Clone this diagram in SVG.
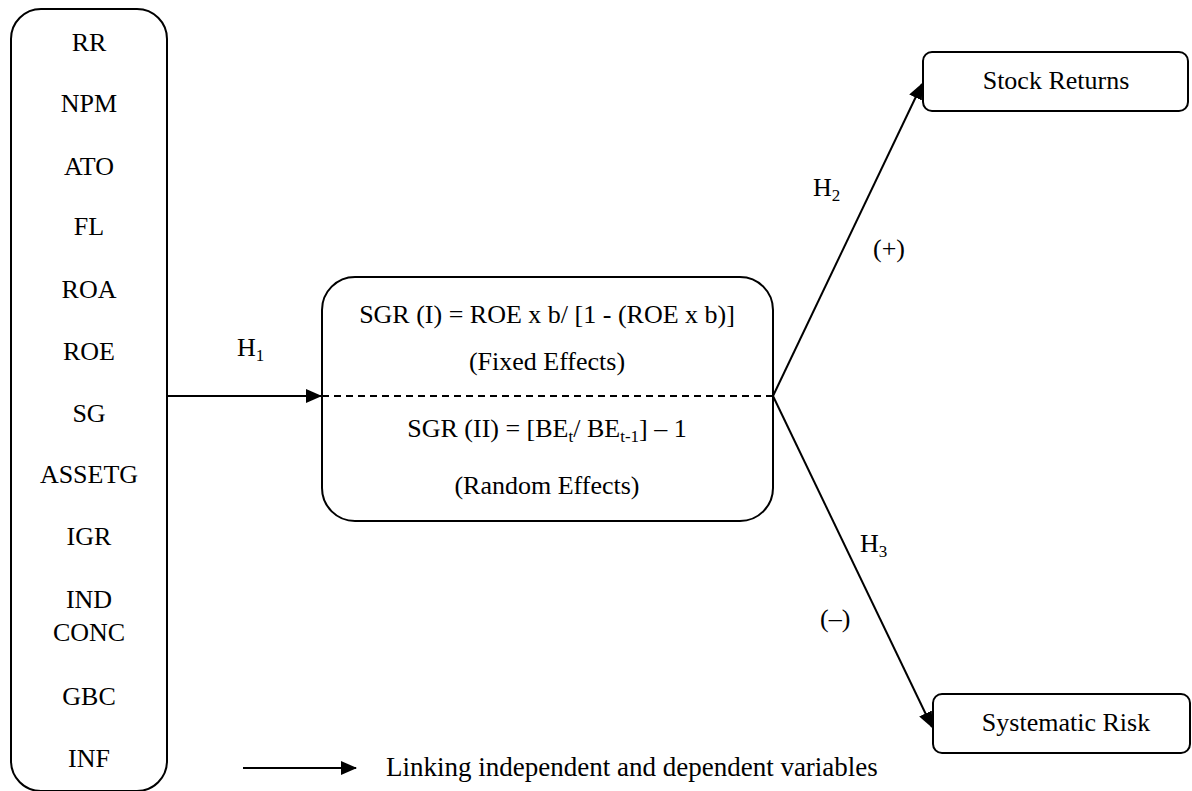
<svg xmlns="http://www.w3.org/2000/svg" width="1192" height="791" viewBox="0 0 1192 791">
<style>
text{font-family:"Liberation Serif","Times New Roman",serif;font-size:26px;fill:#000}
.c{text-anchor:middle}
.box{fill:#fff;stroke:#000;stroke-width:2}
.ln{stroke:#000;stroke-width:2;fill:none}
.sub{font-size:17px}
.lg{font-size:27px}
</style>
<defs>
<marker id="ah" markerWidth="16" markerHeight="14" refX="15" refY="7" orient="auto" markerUnits="userSpaceOnUse">
<path d="M0,0 L16,7 L0,14 Z" fill="#000"/>
</marker>
</defs>
<g id="independent">
<rect class="box" x="11" y="9" width="156" height="782" rx="30"/>
<text class="c" x="89" y="51">RR</text>
<text class="c" x="89" y="112">NPM</text>
<text class="c" x="89" y="175">ATO</text>
<text class="c" x="89" y="235">FL</text>
<text class="c" x="89" y="298">ROA</text>
<text class="c" x="89" y="360">ROE</text>
<text class="c" x="89" y="422">SG</text>
<text class="c" x="89" y="483">ASSETG</text>
<text class="c" x="89" y="545">IGR</text>
<text class="c" x="89" y="608">IND</text>
<text class="c" x="89" y="641">CONC</text>
<text class="c" x="89" y="705">GBC</text>
<text class="c" x="89" y="767">INF</text>
</g>
<g id="sgr">
<rect class="box" x="322" y="277" width="451" height="244" rx="33"/>
<line x1="322" y1="396" x2="773" y2="396" stroke="#000" stroke-width="2" stroke-dasharray="7,5"/>
<text class="c" x="547" y="323">SGR (I) = ROE x b/ [1 - (ROE x b)]</text>
<text class="c" x="547" y="370">(Fixed Effects)</text>
<text class="c" x="547" y="437">SGR (II) = [BE<tspan class="sub" dy="5">t</tspan><tspan dy="-5">/ BE</tspan><tspan class="sub" dy="5">t-1</tspan><tspan dy="-5">] – 1</tspan></text>
<text class="c" x="547" y="494">(Random Effects)</text>
</g>
<g id="stock-returns">
<rect class="box" x="923" y="52" width="265" height="59" rx="9"/>
<text class="c" x="1056" y="89">Stock Returns</text>
</g>
<g id="systematic-risk">
<rect class="box" x="933" y="694" width="257" height="59" rx="9"/>
<text class="c" x="1066" y="731">Systematic Risk</text>
</g>
<g id="connectors">
<line class="ln" x1="167" y1="396" x2="321" y2="396" marker-end="url(#ah)"/>
<line class="ln" x1="773" y1="396" x2="922" y2="84" marker-end="url(#ah)"/>
<line class="ln" x1="773" y1="396" x2="932" y2="727" marker-end="url(#ah)"/>
<line class="ln" x1="243" y1="768" x2="356" y2="768" marker-end="url(#ah)"/>
</g>
<g id="labels">
<text x="237" y="356">H<tspan class="sub" dy="5">1</tspan></text>
<text x="813" y="196">H<tspan class="sub" dy="5">2</tspan></text>
<text x="873" y="257">(+)</text>
<text x="860" y="552">H<tspan class="sub" dy="5">3</tspan></text>
<text x="820" y="627">(–)</text>
<text class="lg" x="386" y="776">Linking independent and dependent variables</text>
</g>
</svg>
